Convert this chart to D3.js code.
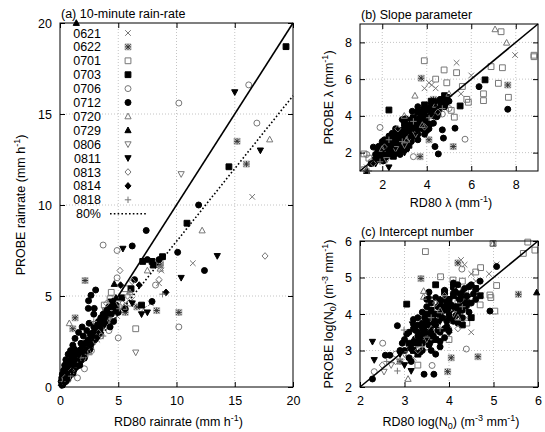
<!DOCTYPE html>
<html>
<head>
<meta charset="utf-8">
<script src="https://cdn.jsdelivr.net/npm/d3@7/dist/d3.min.js"></script>
<style>
    body { margin: 0; background: #fff; }
    svg { font-family: "Liberation Sans", Arial, sans-serif; }
    .grid line { stroke: #c4c4c4; stroke-dasharray: 1, 2; }
    .axis text { font-size: 12.5px; fill: #000; }
    .axis line { stroke: #000; }
</style>
</head>
<body>
<svg id="chart" width="545" height="432"></svg>
<script>
// event days, in legend order
const days = ["0621", "0622", "0701", "0703", "0706", "0712", "0720", "0729", "0806", "0811", "0813", "0814", "0818"];
const markers = ["cross", "star", "squareO", "squareF", "circleO", "circleF", "triO", "triF", "downO", "downF", "diamondO", "diamondF", "plus"];

// tick labels
const ticksA = [0, 5, 10, 15, 20];
const ticksB = [2, 4, 6, 8];
const ticksC = [2, 3, 4, 5, 6];

// (a) 10-minute rain-rate, [RD80, PROBE] per day
const rainRate = [
    /*0621*/[[16.5, 10.45], [11.4, 6.8], [8.5, 5.7], [4.6, 4.2], [4.9, 3.9], [3.9, 3.3], [6.2, 4.8], [7.2, 4.3], [1.9, 1.7], [2.5, 2.3], [3.2, 2.6], [1.2, 1.1], [0.8, 0.9], [5.6, 4.6], [2.8, 2.9], [8.7, 6.4], [3.6, 3.0], [7.8, 4.6]],
    /*0622*/[[15.2, 13.5], [16.0, 12.25], [2.15, 5.85], [1.3, 3.8], [1.1, 3.2], [10.2, 4.1], [8.3, 4.2], [5.6, 4.1], [3.1, 3.2], [2.0, 1.8], [1.0, 0.8], [0.5, 0.6], [4.2, 3.6], [6.6, 4.4], [8.6, 6.7]],
    /*0701*/[[6.5, 3.2], [4.3, 4.85], [5.6, 5.4], [4.4, 5.2], [3.9, 4.2], [2.6, 2.4], [1.6, 1.5], [0.9, 0.7], [3.4, 3.3], [5.0, 4.4], [4.6, 3.8], [2.1, 2.3], [8.6, 6.8], [3.8, 4.5]],
    /*0703*/[[19.4, 18.7], [14.5, 12.1], [10.9, 9.0], [7.1, 6.9], [7.9, 6.9], [8.0, 6.7], [8.8, 7.16], [7.0, 4.5], [4.5, 4.4], [4.1, 4.0], [3.7, 3.5], [3.0, 3.2], [2.4, 2.5], [1.8, 2.0], [1.3, 1.4], [0.9, 1.1], [0.6, 0.5], [1.5, 1.2], [2.6, 2.2], [5.3, 4.9], [0.3, 0.4], [6.1, 5.4], [1.1, 0.8], [2.0, 1.6], [0.4, 0.9],
        [0.5, 0.9], [0.7, 0.6], [1.2, 1.2], [1.6, 1.3], [2.2, 2.0], [2.8, 2.8], [3.4, 3.0], [0.2, 0.2], [1.0, 1.6], [4.8, 4.2]],
    /*0706*/[[16.2, 16.6], [10.2, 15.6], [16.9, 14.5], [3.7, 7.8], [4.9, 7.5], [4.9, 6.0], [8.2, 5.6], [10.2, 3.3], [5.0, 2.7], [2.1, 1.0], [1.5, 0.5], [4.2, 3.1], [3.5, 2.8], [0.7, 0.4], [2.7, 2.0], [6.0, 4.6], [1.1, 1.3]],
    /*0712*/[[11.9, 10.0], [10.1, 7.4], [12.4, 6.4], [7.4, 8.6], [6.2, 7.75], [7.9, 4.7], [8.5, 7.0], [3.06, 5.33], [2.66, 5.04], [2.45, 4.74], [2.43, 4.32], [2.94, 4.32], [2.9, 4.0], [2.5, 3.5], [1.9, 3.3], [1.6, 3.0], [2.3, 3.1], [1.29, 2.67], [1.1, 2.3], [0.9, 2.0], [0.7, 1.8], [0.5, 1.5], [0.4, 1.2], [0.3, 0.9], [0.2, 0.7], [1.3, 2.0], [0.8, 1.4], [0.6, 1.0], [1.8, 2.4], [2.0, 2.8], [1.2, 1.7], [3.5, 3.8], [4.0, 4.2], [4.6, 3.6], [5.6, 4.3], [6.4, 5.9], [7.5, 7.0], [0.1, 0.3], [1.0, 1.0], [1.5, 1.9], [2.6, 2.9], [3.2, 3.4], [5.0, 4.1], [4.3, 3.3], [0.5, 0.3], [0.8, 0.6], [1.4, 1.1], [1.7, 1.5], [2.2, 1.9], [0.3, 0.2], [1.0, 1.5], [2.8, 2.5], [0.2, 0.1],
        [0.15, 0.5], [0.35, 0.45], [0.45, 0.8], [0.6, 0.75], [0.75, 1.1], [0.85, 0.9], [0.95, 1.25], [1.05, 1.4], [1.15, 1.0], [1.25, 1.55], [1.35, 1.3], [1.45, 1.6], [1.55, 1.35], [1.65, 2.0], [1.75, 1.8], [1.85, 1.5], [2.05, 2.1], [2.15, 2.4], [2.35, 2.0], [2.45, 2.6], [2.7, 2.6], [2.9, 3.3], [3.1, 2.9], [3.3, 3.6], [3.45, 3.2], [3.7, 4.0], [3.9, 3.6], [4.2, 4.4], [4.4, 4.0], [4.8, 4.5], [1.2, 2.1], [0.55, 1.2],
        [0.25, 0.35], [0.4, 0.3], [0.65, 0.45], [0.9, 1.05], [1.1, 0.75], [1.3, 1.15], [1.5, 1.7], [1.7, 1.2], [1.9, 1.85], [2.1, 1.6], [2.3, 2.25], [2.55, 2.05], [2.75, 2.95], [3.0, 2.6], [0.35, 0.65], [0.7, 1.3], [1.0, 1.8]],
    /*0720*/[[18.0, 13.6], [12.2, 8.6], [0.8, 3.5], [6.0, 5.2], [7.5, 6.4], [3.0, 2.8], [1.7, 1.5], [5.5, 4.4], [8.6, 6.5], [2.5, 1.9]],
    /*0729*/[[1.4, 20], [4.66, 5.66], [1.5, 1.6], [2.2, 2.3], [0.5, 0.6], [3.6, 3.9], [4.8, 4.9]],
    /*0806*/[[10.4, 11.7], [6.5, 1.9], [4.2, 3.7], [2.0, 1.5], [1.2, 0.9], [3.0, 2.5], [5.0, 4.6]],
    /*0811*/[[15.0, 16.2], [17.2, 13.0], [13.5, 7.2], [10.4, 6.0], [7.5, 4.1], [5.4, 7.6], [6.2, 4.6], [2.8, 2.7], [1.7, 1.6], [0.6, 0.7], [3.8, 3.4], [4.4, 4.7], [7.0, 4.0], [1.3, 0.9]],
    /*0813*/[[17.6, 7.2], [5.15, 6.4], [8.5, 5.9], [6.2, 5.8], [4.0, 4.6], [3.3, 3.0], [2.3, 2.1], [1.0, 0.9], [5.8, 5.0], [0.4, 0.5]],
    /*0814*/[[9.1, 5.2], [5.2, 5.6], [2.9, 3.0], [1.6, 1.7], [0.7, 0.6], [3.9, 3.8], [2.1, 1.9], [1.1, 1.2], [6.8, 5.6], [4.5, 4.7], [0.3, 0.2], [1.9, 2.2], [0.9, 0.8],
        [0.5, 0.4], [1.3, 1.5], [1.8, 1.4], [2.5, 2.3], [3.2, 2.7], [0.1, 0.1]],
    /*0818*/[[8.8, 5.1], [2.9, 3.6], [3.7, 2.8], [1.8, 1.6], [0.9, 0.6], [5.1, 4.3], [6.0, 5.2], [2.4, 1.8], [0.2, 0.3]]
];

// (b) slope parameter lambda
const slope = [
    /*0621*/[[7.97, 7.31], [5.34, 6.89], [4.22, 5.68], [4.4, 5.5], [5.54, 5.2], [6.0, 6.2], [3.9, 5.5], [3.0, 3.3], [2.5, 2.4], [1.3, 1.2], [3.6, 3.1], [4.6, 4.8], [4.0, 4.0], [4.1, 5.8]],
    /*0622*/[[3.75, 6.05], [5.19, 2.33], [7.64, 5.68], [3.7, 1.78], [4.1, 2.7], [2.8, 2.6], [3.5, 3.8], [4.3, 4.9], [1.8, 1.7], [2.2, 2.0], [3.9, 3.3]],
    /*0701*/[[7.34, 8.58], [8.82, 7.22], [8.82, 7.3], [3.89, 7.0], [4.78, 6.5], [5.34, 6.35], [6.89, 6.68], [7.4, 6.62], [7.22, 5.77], [7.67, 5.01], [6.55, 5.2], [6.55, 4.83], [5.87, 4.74], [5.1, 4.3], [5.24, 3.93], [4.9, 5.8], [5.6, 5.6], [4.5, 4.6], [1.18, 1.93], [3.2, 3.3], [2.6, 2.4], [4.0, 3.7], [1.4, 1.7], [5.8, 4.9], [4.4, 6.0]],
    /*0703*/[[2.3, 4.32], [6.62, 5.96], [5.5, 4.54], [4.9, 5.0], [4.2, 4.8], [3.6, 4.2], [3.0, 3.6], [2.7, 2.9], [2.2, 2.3], [1.7, 1.6], [3.3, 2.7], [4.5, 4.1], [2.5, 1.8], [3.9, 4.6], [3.4, 3.9], [2.9, 2.5], [2.0, 1.9], [4.0, 3.5],
        [2.6, 2.6], [3.1, 3.3], [3.5, 3.5], [3.8, 3.7], [4.3, 4.3], [2.1, 2.0], [2.9, 3.2], [4.6, 4.7], [3.2, 2.4], [4.8, 5.1]],
    /*0706*/[[5.72, 2.73], [3.4, 1.78], [1.9, 3.37], [1.3, 1.9], [2.4, 2.1], [3.1, 2.9], [4.2, 3.8], [4.7, 4.1], [1.5, 1.5], [2.8, 2.3], [3.6, 3.4], [5.0, 4.4]],
    /*0712*/[[7.64, 4.36], [6.35, 5.59], [5.27, 3.33], [4.7, 3.24], [4.75, 2.79], [4.52, 1.93], [4.37, 2.33], [4.8, 4.5], [2.1, 2.2], [2.4, 2.6], [2.7, 2.3], [3.0, 3.0], [3.2, 3.5], [3.5, 3.1], [3.8, 4.0], [4.1, 4.4], [4.4, 4.3], [2.2, 1.8], [2.6, 3.3], [3.3, 2.6], [1.9, 2.0], [3.7, 3.6], [4.0, 3.2], [2.9, 3.8], [4.6, 4.9], [3.1, 2.2], [2.3, 2.9], [3.6, 4.5], [1.6, 2.3], [2.8, 1.9], [4.3, 3.6], [5.0, 4.8], [2.5, 2.0], [3.4, 3.3], [2.0, 2.6], [3.9, 3.0],
        [1.5, 1.4], [1.7, 1.9], [1.9, 1.7], [2.0, 2.3], [2.2, 2.1], [2.3, 2.5], [2.4, 1.9], [2.5, 2.8], [2.6, 2.3], [2.7, 3.0], [2.8, 2.6], [2.9, 2.3], [3.0, 3.3], [3.1, 2.7], [3.2, 3.1], [3.3, 3.8], [3.4, 2.9], [3.5, 3.6], [3.6, 3.0], [3.7, 3.9], [3.8, 3.3], [3.9, 4.2], [4.0, 3.6], [4.2, 4.6], [4.3, 4.0], [4.5, 4.6], [4.7, 4.8], [4.9, 5.0], [2.1, 2.7], [2.7, 2.0], [3.3, 3.4], [3.0, 2.5], [2.4, 2.2], [1.8, 2.1], [4.1, 3.3],
        [2.15, 1.75], [2.35, 2.35], [2.55, 2.15], [2.65, 2.65], [2.75, 3.15], [2.85, 2.15], [2.95, 2.75], [3.05, 2.45], [3.15, 3.15], [3.25, 2.85], [3.35, 3.15], [3.45, 3.75], [3.55, 3.35], [3.65, 3.85], [3.75, 3.45], [3.85, 4.35], [3.95, 3.75], [4.05, 4.05], [4.15, 3.55], [4.25, 4.25], [4.35, 4.65], [4.45, 3.95], [4.55, 4.35], [4.65, 4.75], [2.45, 3.05], [3.05, 3.85], [3.35, 4.25], [2.05, 1.55], [1.85, 2.35], [3.6, 2.7]],
    /*0720*/[[7.07, 8.71], [7.59, 7.98], [3.47, 5.1], [2.99, 4.0], [4.4, 4.6], [3.1, 2.7], [2.0, 2.2], [5.0, 5.2], [3.8, 3.5]],
    /*0729*/[[1.3, 1.0], [2.5, 2.7], [3.3, 3.6], [4.0, 4.3], [2.9, 3.1], [1.8, 1.8], [4.6, 4.5]],
    /*0806*/[[1.2, 1.1], [2.2, 1.6], [3.5, 3.0], [4.2, 4.0], [2.6, 2.2], [3.0, 2.4]],
    /*0811*/[[2.3, 1.2], [1.7, 1.4], [2.8, 2.7], [3.4, 3.3], [4.0, 3.8], [2.2, 2.5], [3.7, 4.2], [2.6, 1.9], [3.0, 2.0]],
    /*0813*/[[2.1, 2.3], [3.2, 2.8], [4.5, 4.2], [2.7, 3.3], [3.9, 3.4], [1.6, 1.4]],
    /*0814*/[[2.4, 2.3], [3.0, 3.4], [3.6, 3.2], [4.2, 4.1], [1.9, 1.6], [2.6, 3.0], [4.9, 4.7], [3.3, 2.9],
        [2.8, 3.0], [3.4, 3.5], [2.3, 2.1], [3.9, 3.9], [4.4, 4.8]],
    /*0818*/[[1.4, 1.0], [1.9, 1.5], [2.9, 2.6], [3.4, 3.7], [4.1, 3.9], [2.3, 2.7], [4.7, 4.4]]
];

// (c) intercept number log(N0)
const intercept = [
    /*0621*/[[5.07, 5.36], [4.27, 5.48], [4.73, 4.52], [4.35, 5.35], [4.5, 5.1], [4.6, 4.9], [4.1, 4.6], [4.0, 3.7], [3.6, 3.3], [3.2, 2.8], [4.4, 3.9], [3.8, 4.2], [4.9, 5.1], [4.5, 3.5]],
    /*0622*/[[3.37, 4.97], [5.56, 4.54], [4.65, 2.83], [4.05, 2.8], [3.97, 2.42], [4.2, 5.4], [3.8, 3.9], [3.3, 3.3], [4.4, 4.4], [2.9, 2.7]],
    /*0701*/[[3.47, 5.71], [4.99, 5.93], [5.77, 5.97], [5.93, 5.75], [5.67, 5.66], [4.71, 5.27], [3.81, 5.02], [4.09, 4.93], [5.07, 4.78], [4.92, 4.52], [4.94, 4.45], [5.03, 4.08], [4.7, 4.25], [4.6, 5.15], [4.3, 4.9], [4.4, 3.75], [4.0, 3.3], [3.3, 2.6], [4.5, 4.6], [3.6, 3.9], [4.2, 4.3], [3.9, 3.5]],
    /*0703*/[[3.05, 4.27], [4.6, 4.7], [3.6, 4.1], [3.8, 4.3], [4.1, 4.5], [3.4, 3.6], [3.7, 3.3], [3.2, 3.0], [4.2, 4.0], [4.4, 4.3], [3.9, 4.6], [3.5, 3.8], [4.0, 3.9], [3.1, 3.2], [3.3, 2.9], [4.5, 3.9], [3.7, 4.8], [4.3, 3.7],
        [3.5, 4.0], [3.8, 4.0], [4.0, 4.4], [4.2, 4.2], [3.3, 3.2], [3.6, 3.4], [4.1, 4.75], [4.7, 4.5], [3.45, 3.5], [3.95, 4.3]],
    /*0706*/[[4.29, 5.23], [4.39, 3.04], [3.62, 2.59], [2.51, 3.2], [2.32, 2.42], [3.3, 3.5], [3.9, 4.0], [3.5, 3.1], [4.2, 4.7], [2.8, 2.9]],
    /*0712*/[[5.07, 5.3], [4.92, 4.08], [2.57, 2.87], [2.67, 2.87], [2.28, 2.22], [3.44, 2.35], [3.66, 2.35], [2.84, 3.68], [3.0, 3.3], [3.3, 3.9], [3.5, 3.5], [3.7, 4.0], [3.9, 4.4], [4.1, 3.8], [4.3, 4.1], [3.6, 3.7], [3.2, 3.6], [3.8, 3.1], [4.0, 4.2], [3.4, 3.2], [3.1, 2.8], [4.5, 4.3], [3.5, 4.4], [3.9, 3.6], [3.3, 3.4], [3.7, 2.9], [2.9, 3.0], [3.6, 4.3], [4.2, 4.8], [3.4, 3.0],
        [3.0, 3.0], [3.1, 3.5], [3.2, 3.2], [3.3, 3.7], [3.4, 3.4], [3.45, 3.9], [3.5, 3.3], [3.55, 3.7], [3.6, 4.0], [3.65, 3.4], [3.7, 3.7], [3.75, 4.2], [3.8, 3.5], [3.85, 3.9], [3.9, 4.1], [3.95, 3.8], [4.0, 4.4], [4.05, 3.9], [4.1, 4.2], [4.15, 4.6], [4.2, 4.1], [4.25, 4.4], [4.3, 3.9], [4.35, 4.7], [4.4, 4.5], [4.5, 4.8], [4.6, 4.4], [4.7, 4.9], [3.4, 3.75], [3.6, 3.55], [3.9, 3.35], [3.55, 4.6],
        [3.05, 3.45], [3.15, 3.05], [3.25, 3.55], [3.35, 3.25], [3.45, 3.65], [3.55, 3.15], [3.65, 3.85], [3.75, 3.55], [3.85, 4.15], [3.95, 3.65], [4.05, 4.25], [4.15, 3.95], [4.25, 4.55], [4.35, 4.25], [4.45, 4.05], [4.55, 4.55], [3.5, 4.2], [3.7, 4.45], [3.9, 4.65], [4.1, 4.85], [3.35, 2.95], [3.6, 3.0], [3.8, 3.25], [4.0, 3.55], [4.2, 3.75], [3.2, 3.85], [3.4, 4.05], [4.45, 4.75], [3.15, 2.7], [2.95, 3.2]],
    /*0720*/[[3.43, 4.63], [3.43, 4.47], [4.99, 5.93], [3.08, 2.22], [3.8, 4.1], [4.2, 3.9], [3.6, 3.6]],
    /*0729*/[[5.97, 4.59], [3.5, 3.8], [4.0, 4.1], [3.2, 3.3], [4.3, 4.5]],
    /*0806*/[[2.54, 2.42], [3.5, 3.3], [3.0, 2.9], [4.1, 4.0], [2.7, 2.6]],
    /*0811*/[[2.28, 3.24], [2.32, 2.74], [3.15, 2.44], [3.18, 3.72], [3.3, 3.5], [3.6, 3.2], [2.9, 2.9], [3.8, 3.8], [4.2, 4.4], [3.0, 2.6]],
    /*0813*/[[2.5, 2.6], [3.3, 3.0], [3.7, 4.3], [4.2, 3.6], [3.9, 4.5], [2.8, 2.7]],
    /*0814*/[[3.55, 4.45], [3.3, 3.3], [3.9, 4.2], [4.1, 4.6], [3.6, 3.5], [4.4, 4.2], [3.2, 3.7], [4.0, 3.5],
        [3.7, 3.8], [4.0, 4.0], [3.4, 3.5], [4.3, 4.6], [3.8, 4.4]],
    /*0818*/[[2.84, 2.44], [2.99, 3.56], [3.4, 3.1], [3.8, 3.6], [2.6, 2.7], [4.3, 4.2], [3.6, 3.9]]
];

const svg = d3.select("#chart");

// marker shapes drawn around 0,0
function markerPath(type) {
    const shape = type.replace(/[OF]$/, "");
    if (shape == "cross") return "M-2.8,-2.8L2.8,2.8M-2.8,2.8L2.8,-2.8";
    if (shape == "plus") return "M-3.2,0H3.2M0,-3.2V3.2";
    if (shape == "star") return "M-2.6,-2.6L2.6,2.6M-2.6,2.6L2.6,-2.6M-3,0H3M0,-3V3";
    if (shape == "square") return "M-2.9,-2.9H2.9V2.9H-2.9Z";
    if (shape == "circle") return d3.symbol(d3.symbolCircle, 28)();
    if (shape == "tri") return "M0,-3.3L3.1,2.4H-3.1Z";
    if (shape == "down") return "M0,3.3L3.1,-2.4H-3.1Z";
    if (shape == "diamond") return "M0,-3.3L3,0L0,3.3L-3,0Z";
}

function drawMarker(g, type) {
    const filled = type.endsWith("F");
    if (type == "star") { // boxed asterisk look
        g.append("path").attr("d", "M-3,-3H3V3H-3Z")
            .attr("fill", "#ddd").attr("stroke", "#aaa").attr("stroke-width", 0.8);
    }
    g.append("path")
        .attr("d", markerPath(type))
        .attr("fill", filled ? "#000" : "none")
        .attr("stroke", filled ? "#000" : (type == "star" ? "#333" : "#777"))
        .attr("stroke-width", 1);
}

// text with superscripts (^) and subscripts (_)
function richText(sel, parts) {
    let shift = 0;
    parts.forEach(p => {
        const kind = p[0] == "^" ? 1 : p[0] == "_" ? -1 : 0;
        const target = kind == 1 ? -5 : kind == -1 ? 3 : 0;
        sel.append("tspan")
            .attr("font-size", kind ? "9px" : null)
            .attr("dy", target - shift)
            .text(kind ? p.slice(1) : p);
        shift = target;
    });
}

function panel(opts) {
    const { x, y, ticksX, ticksY, grid, data, title, xTitle, yTitle, yTitleX, xTitleGap } = opts;
    const [x0, x1] = x.range();
    const [y0, y1] = y.range();
    const fmt = d3.format("d");
    const g = svg.append("g");

    // grid
    g.append("g").attr("class", "grid").selectAll("line").data(grid[0]).enter().append("line")
        .attr("x1", d => x(d)).attr("x2", d => x(d)).attr("y1", y0).attr("y2", y1);
    g.append("g").attr("class", "grid").selectAll("line").data(grid[1]).enter().append("line")
        .attr("y1", d => y(d)).attr("y2", d => y(d)).attr("x1", x0).attr("x2", x1);

    // points, one group per day
    data.forEach((pts, i) => {
        g.append("g").selectAll("g").data(pts).enter().append("g")
            .attr("transform", d => `translate(${x(d[0])},${y(d[1])})`)
            .each(function () { drawMarker(d3.select(this), markers[i]); });
    });

    // 1:1 line
    const dom = x.domain();
    g.append("line")
        .attr("x1", x(dom[0])).attr("y1", y(dom[0]))
        .attr("x2", x(dom[1])).attr("y2", y(dom[1]))
        .attr("stroke", "#000").attr("stroke-width", 1.6);

    if (opts.eighty) { // 80% line
        g.append("line")
            .attr("x1", x(dom[0])).attr("y1", y(dom[0] * 0.8))
            .attr("x2", x(dom[1])).attr("y2", y(dom[1] * 0.8))
            .attr("stroke", "#000").attr("stroke-width", 1.6).attr("stroke-dasharray", "1.6,2.2");
    }

    // axes, ticks inside and mirrored
    g.append("g").attr("class", "axis").attr("transform", `translate(0,${y0})`)
        .call(d3.axisBottom(x).tickValues(ticksX).tickFormat(fmt).tickSizeInner(-5).tickSizeOuter(0).tickPadding(9))
        .call(a => a.select(".domain").remove());
    g.append("g").attr("class", "axis").attr("transform", `translate(0,${y1})`)
        .call(d3.axisTop(x).tickValues(ticksX).tickSizeInner(-5).tickSizeOuter(0).tickFormat(""))
        .call(a => a.select(".domain").remove());
    g.append("g").attr("class", "axis").attr("transform", `translate(${x0},0)`)
        .call(d3.axisLeft(y).tickValues(ticksY).tickFormat(fmt).tickSizeInner(-5).tickSizeOuter(0).tickPadding(8))
        .call(a => a.select(".domain").remove());
    g.append("g").attr("class", "axis").attr("transform", `translate(${x1},0)`)
        .call(d3.axisRight(y).tickValues(ticksY).tickSizeInner(-5).tickSizeOuter(0).tickFormat(""))
        .call(a => a.select(".domain").remove());

    // frame
    g.append("rect").attr("x", x0).attr("y", y1).attr("width", x1 - x0).attr("height", y0 - y1)
        .attr("fill", "none").attr("stroke", "#000").attr("stroke-width", 1);

    // texts
    g.append("text").attr("x", x0 + 1).attr("y", y1 - 5).attr("font-size", "12.5px").text(title);
    richText(g.append("text").attr("x", (x0 + x1) / 2 + 2).attr("y", y0 + xTitleGap)
        .attr("text-anchor", "middle").attr("font-size", "12.5px"), xTitle);
    richText(g.append("text")
        .attr("transform", `translate(${yTitleX},${(y0 + y1) / 2}) rotate(-90)`)
        .attr("text-anchor", "middle").attr("font-size", "12.5px"), yTitle);
    return g;
}

// (a)
const xA = d3.scaleLinear([0, 20], [60, 293]);
const yA = d3.scaleLinear([0, 20], [387, 23]);
panel({
    x: xA, y: yA, ticksX: ticksA, ticksY: ticksA, grid: [[5, 10, 15], [5, 10, 15]], data: rainRate,
    title: "(a) 10-minute rain-rate", xTitle: ["RD80 rainrate (mm h", "^-1", ")"], xTitleGap: 39,
    yTitle: ["PROBE rainrate (mm h", "^-1", ")"], yTitleX: 25, eighty: true
});

// (b)
const xB = d3.scaleLinear([1, 9], [360, 538]);
const yB = d3.scaleLinear([1, 9], [171, 24]);
panel({
    x: xB, y: yB, ticksX: ticksB, ticksY: ticksB, grid: [ticksB, ticksB], data: slope,
    title: "(b) Slope parameter", xTitle: ["RD80 \u03bb (mm", "^-1", ")"], xTitleGap: 36,
    yTitle: ["PROBE \u03bb (mm", "^-1", ")"], yTitleX: 333
});

// (c)
const xC = d3.scaleLinear([2, 6], [360, 538]);
const yC = d3.scaleLinear([2, 6], [387, 241]);
panel({
    x: xC, y: yC, ticksX: ticksC, ticksY: ticksC, grid: [[3, 4, 5], [3, 4, 5]], data: intercept,
    title: "(c) Intercept number", xTitle: ["RD80 log(N", "_0", ") (m", "^-3", " mm", "^-1", ")"], xTitleGap: 39,
    yTitle: ["PROBE log(N", "_0", ") (m", "^-3", " mm", "^-1", ")"], yTitleX: 333
});

// legend inside (a)
const legend = svg.append("g").attr("font-size", "12.5px");
days.forEach((d, i) => {
    const cy = 33 + i * 13.9;
    legend.append("text").attr("x", 101).attr("y", cy + 4.5).attr("text-anchor", "end").text(d);
    drawMarker(legend.append("g").attr("transform", `translate(128,${cy})`), markers[i]);
});
const cy80 = 33 + days.length * 13.9;
legend.append("text").attr("x", 101).attr("y", cy80 + 4.5).attr("text-anchor", "end").text("80%");
legend.append("line").attr("x1", 110).attr("x2", 147).attr("y1", cy80).attr("y2", cy80)
    .attr("stroke", "#000").attr("stroke-width", 1.6).attr("stroke-dasharray", "1.6,2.2");
</script>
</body>
</html>
